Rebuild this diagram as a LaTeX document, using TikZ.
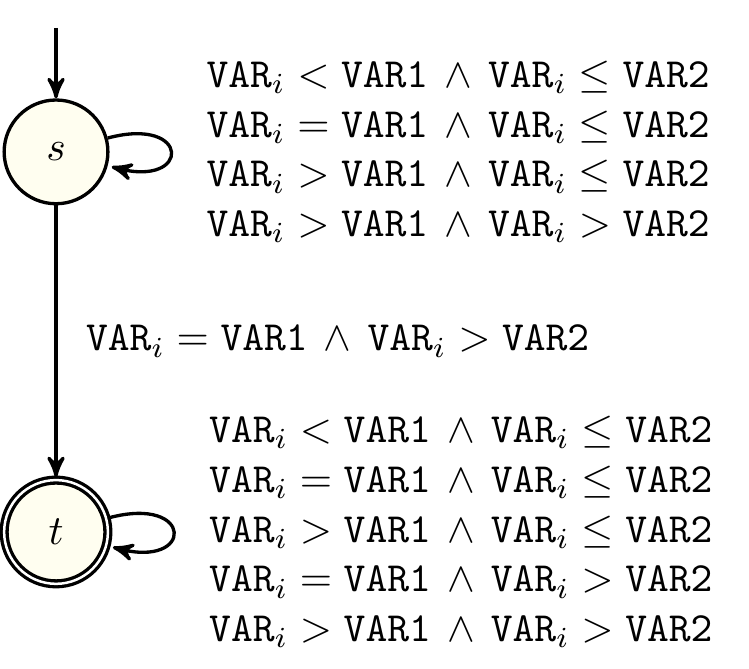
\documentclass[tikz,border=0pt]{standalone}
\usepackage{amsmath}
\usetikzlibrary{automata,arrows,positioning}

\newcommand{\guard}[2]{$\mathtt{VAR}_i #1 \mathtt{VAR1} \,\wedge\, \mathtt{VAR}_i #2 \mathtt{VAR2}$}

\begin{document}
\begin{tikzpicture}[>=stealth', thick, initial text={}, every state/.style={fill=yellow!6}]
\tikzstyle{guards} = [align=left, right=5pt]
\useasboundingbox (-13.5pt,-124.6pt) rectangle (167pt,36.6pt);

% Stati
\node[state, initial above, initial distance=17pt] (s) at (0,0) {$s$};
\node[state, accepting] (t) at (0,-91.6pt) {$t$};

% Transizioni
\path[->]
  (s) edge[loop right] node[guards] {\guard{<}{\leq}\\
                                     \guard{=}{\leq}\\
                                     \guard{>}{\leq}\\
                                     \guard{>}{>}} (s)
  (s) edge node[right=3.5pt] {\guard{=}{>}} (t)
  (t) edge[loop right] node[guards] {\guard{<}{\leq}\\
                                     \guard{=}{\leq}\\
                                     \guard{>}{\leq}\\
                                     \guard{=}{>}\\
                                     \guard{>}{>}} (t);

\end{tikzpicture}
\end{document}
